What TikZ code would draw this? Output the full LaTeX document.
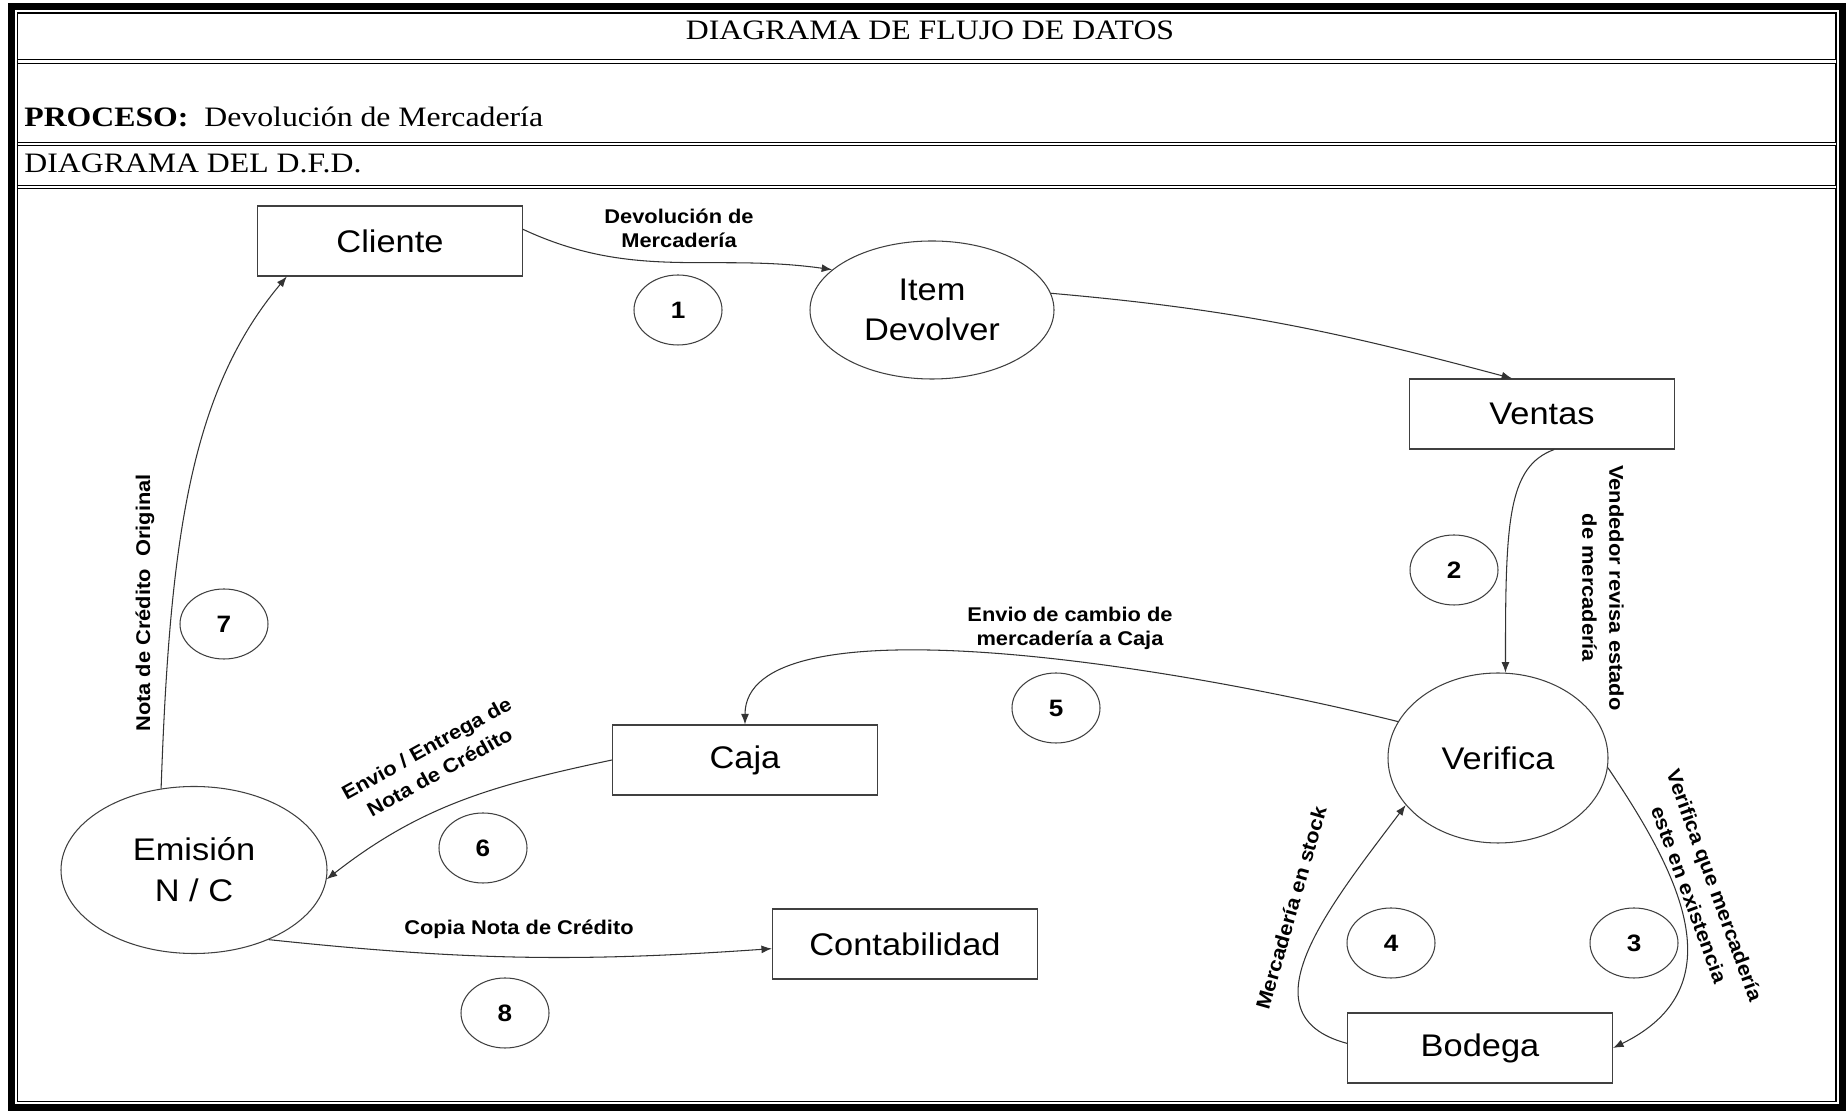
\documentclass[tikz,border=0pt]{standalone}
\usepackage{fontspec}
\setmainfont{Liberation Serif}[FakeStretch=1.13]
\newfontfamily\arialfont{Liberation Sans}[FakeStretch=1.1]
\usetikzlibrary{shapes.geometric,arrows.meta}
\tikzstyle{entity}=[rectangle, draw=black!75, line width=0.6pt, minimum width=5.3cm, minimum height=1.4cm, inner sep=0pt, font=\arialfont\fontsize{17.8}{23.2}\selectfont]
\tikzstyle{proc}=[ellipse, draw=black!75, line width=0.6pt, inner sep=0pt, align=center, font=\arialfont\fontsize{17.8}{23.2}\selectfont]
\tikzstyle{num}=[ellipse, draw=black!75, line width=0.6pt, minimum width=1.76cm, minimum height=1.4cm, inner sep=0pt, font=\arialfont\bfseries\fontsize{13.5}{15}\selectfont]
\tikzstyle{flowlabel}=[align=center, inner sep=0pt, font=\arialfont\bfseries\fontsize{11.3}{13.6}\selectfont]
\tikzstyle{sidelabel}=[align=center, inner sep=0pt, font=\arialfont\bfseries\fontsize{11.3}{15.4}\selectfont]
\tikzstyle{flow}=[-{Latex[length=6pt,width=4.5pt]}, line width=0.6pt, draw=black!80]
\tikzstyle{sep}=[double, line width=0.5pt, double distance=1.5pt]
\tikzstyle{head}=[font=\fontsize{16}{19}\selectfont]
\newcommand{\drawmarco}[0]
{
  \draw[line width=4pt] (0.23,0.19) rectangle (36.84,22.21);
  \draw[line width=0.6pt] (0.35,0.31) rectangle (36.72,22.08);
  \draw[sep] (0.35,21.11) -- (36.72,21.11);
  \draw[sep] (0.35,19.46) -- (36.72,19.46);
  \draw[sep] (0.35,18.60) -- (36.72,18.60);
  \node[head, anchor=base] (titulo) at (18.6,21.54) {DIAGRAMA DE FLUJO DE DATOS};
  \node[head, anchor=base west, inner sep=0pt] (proceso) at (0.48,19.80) {\textbf{PROCESO:}~~Devolución de Mercadería};
  \node[head, anchor=base west, inner sep=0pt] (dfd) at (0.48,18.88) {DIAGRAMA DEL D.F.D.};
}

\begin{document}
\begin{tikzpicture}
	\useasboundingbox (0,0) rectangle (36.94,22.34);

	\drawmarco{}

	% entidades y procesos
	\node[entity](cliente) at (7.80,17.52){Cliente};
	\node[proc, minimum width=4.88cm, minimum height=2.76cm](item) at (18.64,16.14){Item\\Devolver};
	\node[entity](ventas) at (30.84,14.06){Ventas};
	\node[proc, minimum width=4.4cm, minimum height=3.4cm](verifica) at (29.96,7.18){Verifica};
	\node[entity](caja) at (14.90,7.14){Caja};
	\node[proc, minimum width=5.32cm, minimum height=3.34cm](emision) at (3.88,4.94){Emisión\\N / C};
	\node[entity](contab) at (18.10,3.46){Contabilidad};
	\node[entity](bodega) at (29.60,1.38){Bodega};

	% numeros de flujo
	\node[num](n1) at (13.56,16.14){1};
	\node[num](n2) at (29.08,10.94){2};
	\node[num](n3) at (32.68,3.48){3};
	\node[num](n4) at (27.82,3.48){4};
	\node[num](n5) at (21.12,8.18){5};
	\node[num](n6) at (9.66,5.38){6};
	\node[num](n7) at (4.48,9.86){7};
	\node[num](n8) at (10.10,2.08){8};

	% flujos
	\draw[flow] (cliente.5) to[out=-25,in=172] (item.158);
	\draw[flow] (item.8) to[out=-5,in=165] (ventas.130);
	\draw[flow] (ventas.-71) to[out=200,in=90,out distance=1cm,in distance=3cm] (verifica.85);
	\draw[flow] (verifica.-5) to[out=-56,in=26,out distance=2.5cm,in distance=2.8cm] (bodega.east);
	\draw[flow] (bodega.178) to[out=165,in=233,out distance=2.2cm,in distance=2.5cm] (verifica.207);
	\draw[flow] (verifica.160) to[out=166,in=90,out distance=5cm,in distance=2.5cm] (caja.north);
	\draw[flow] (caja.west) to[out=192,in=38] (emision.-4);
	\draw[flow] (emision.112) to[out=88,in=230,out distance=5cm,in distance=3cm] (cliente.199);
	\draw[flow] (emision.-43) to[out=-6,in=184] (contab.182);

	% etiquetas
	\node[flowlabel](l1) at (13.58,17.78){Devolución de\\Mercadería};
	\node[sidelabel, rotate=-90](l2) at (32.06,10.58){Vendedor revisa estado\\de mercadería};
	\node[sidelabel, rotate=-70](l3) at (34.04,4.54){Verifica que mercadería\\este en existencia};
	\node[sidelabel, rotate=74](l4) at (25.82,4.18){Mercadería en stock};
	\node[flowlabel](l5) at (21.40,9.78){Envio de cambio de\\mercadería a Caja};
	\node[sidelabel, rotate=29](l6) at (8.66,7.14){Envio / Entrega de\\Nota de Crédito};
	\node[sidelabel, rotate=90](l7) at (2.90,10.28){Nota de Crédito\ \ Original};
	\node[flowlabel](l8) at (10.38,3.76){Copia Nota de Crédito};

\end{tikzpicture}
\end{document}
